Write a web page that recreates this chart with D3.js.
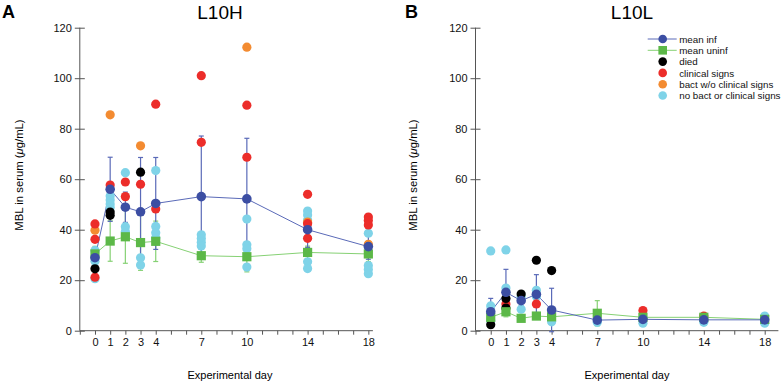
<!DOCTYPE html>
<html>
<head>
<meta charset="utf-8">
<script src="https://cdn.jsdelivr.net/npm/d3@7"></script>
<style>
  body { margin: 0; background: #fff; }
  svg { font-family: "Liberation Sans", Arial, sans-serif; }
</style>
</head>
<body>
<svg width="784" height="383"></svg>
<script>
// ---- data: [day, MBL µg/mL] ----
let days = [0, 1, 2, 3, 4, 7, 10, 14, 18];
let yTicks = [0, 20, 40, 60, 80, 100, 120];

// panel A (L10H)
let aMeanInf   = [28.9, 56, 48.9, 47.1, 50.4, 53.1, 52.2, 40, 33.3];
let aSdInf     = [3, 12.7, 6, 21.5, 18.2, 24, 24, 7, 5];
let aMeanUninf = [30.4, 35.5, 37.2, 34.9, 35.4, 29.7, 29.3, 31, 30.4];
let aSdUninf   = [3, 8, 10.5, 11, 8, 2.6, 6, 2.5, 3];
let aNoBact = [[0,31.8],[0,27.5],[0,20.6],[1,53.3],[1,51.8],[1,50.2],[1,48.8],[2,62.6],[2,41.2],[2,39.3],
               [3,28.9],[3,26],[4,63.4],[4,41.3],[4,38.8],[4,36.8],[7,38],[7,36.5],[7,35],[7,33.5],
               [10,44.2],[10,34],[10,32.5],[10,25.2],[14,47.4],[14,45.8],[14,43.8],[14,27.3],[14,24.6],
               [18,38.6],[18,25.8],[18,24.2],[18,22.6]];
let aBact = [[0,39.8],[1,85.5],[3,73.2],[10,112.3],[14,43],[18,34.2]];
let aClinical = [[0,42.3],[0,36.2],[0,21.2],[1,57.7],[2,58.9],[2,53.1],[3,58],[4,89.7],[4,48.2],
                 [7,101],[7,74.6],[10,89.3],[10,68.7],[14,54],[14,42.4],[14,36.6],[18,45],[18,43.6],[18,41.9]];
let aDied = [[0,24.5],[1,47],[1,45.7],[3,62.8]];

// panel B (L10L)
let bMeanInf   = [7.5, 15.2, 11.9, 14.4, 8.2, 4.2, 4.5, 4.3, 4.3];
let bSdInf     = [5.3, 9.1, 2, 7.8, 8.6, 1, 1, 1, 1];
let bMeanUninf = [5.3, 7.5, 4.9, 5.8, 5.5, 6.9, 5.3, 5.3, 4.5];
let bSdUninf   = [2, 2, 1, 1, 1, 5, 1, 1, 1];
let bNoBact = [[0,31.6],[0,9.8],[0,4],[1,32],[1,16.9],[2,13.5],[2,8.5],[3,16],[3,13.5],[4,3.5],
               [7,3.3],[10,3],[10,5],[14,3.3],[18,5.8],[18,3]];
let bBact = [];
let bClinical = [[1,10.6],[3,10.6],[10,8],[14,5.8]];
let bDied = [[0,2.4],[1,12.8],[1,9],[2,14.5],[3,27.9],[4,23.8]];

let cInf = '#3c4ea3', cInfLine = '#5a6ab8';
let cUninf = '#5cb848', cUninfLine = '#86d174';
let cDied = '#000000', cClin = '#ec2d2a', cBact = '#f38b31', cNo = '#7fd3e8';

let svg = d3.select('svg');
let yScale = d3.scaleLinear().domain([0, 120]).range([330.7, 27.7]);

function drawPanel(opt) {
    let x = d3.scaleLinear().domain([-1, opt.xMax]).range(opt.xRange);
    let g = svg.append('g');

    // axes
    let yAx = g.append('g')
        .attr('transform', 'translate(' + opt.xRange[0] + ',0)')
        .call(d3.axisLeft(yScale).tickValues(yTicks).tickSize(5).tickPadding(3));
    let xAx = g.append('g')
        .attr('transform', 'translate(0,' + yScale(0) + ')')
        .call(d3.axisBottom(x).tickValues(d3.range(-1, 19)).tickSize(4).tickPadding(4)
            .tickFormat(d => days.includes(d) ? d : ''));
    [yAx, xAx].forEach(a => {
        a.select('.domain').attr('stroke', '#555');
        a.selectAll('.tick line').attr('stroke', '#555');
        a.selectAll('text').attr('font-size', 11).attr('fill', '#111')
            .attr('font-family', '"Liberation Sans", Arial, sans-serif');
    });
    yAx.selectAll('.tick line').attr('x2', 5).attr('x1', -5);
    yAx.select('.domain').attr('d', 'M0,' + yScale(120) + 'V' + yScale(0));
    xAx.select('.domain').attr('d', 'M' + opt.xRange[0] + ',0H' + opt.xRange[1]);

    // error bars
    let errBars = function(means, sds, color) {
        let eb = g.append('g').attr('stroke', color).attr('stroke-width', 1.2);
        days.forEach((d, i) => {
            let x0 = x(d), lo = yScale(means[i] - sds[i]), hi = yScale(means[i] + sds[i]);
            eb.append('line').attr('x1', x0).attr('x2', x0).attr('y1', lo).attr('y2', hi);
            eb.append('line').attr('x1', x0 - 2.5).attr('x2', x0 + 2.5).attr('y1', lo).attr('y2', lo);
            eb.append('line').attr('x1', x0 - 2.5).attr('x2', x0 + 2.5).attr('y1', hi).attr('y2', hi);
        });
    };
    errBars(opt.meanUninf, opt.sdUninf, cUninfLine);
    errBars(opt.meanInf, opt.sdInf, cInfLine);

    let line = d3.line().x((v, i) => x(days[i])).y(v => yScale(v));
    g.append('path').attr('d', line(opt.meanUninf)).attr('fill', 'none')
        .attr('stroke', cUninfLine).attr('stroke-width', 1);
    g.append('path').attr('d', line(opt.meanInf)).attr('fill', 'none')
        .attr('stroke', cInfLine).attr('stroke-width', 1);

    // individual animals
    let dots = function(pts, color) {
        g.append('g').selectAll('circle').data(pts).enter().append('circle')
            .attr('cx', d => x(d[0])).attr('cy', d => yScale(d[1]))
            .attr('r', 4.6).attr('fill', color);
    };
    dots(opt.noBact, cNo);
    dots(opt.bact, cBact);
    dots(opt.clinical, cClin);
    dots(opt.died, cDied);

    // means on top
    g.append('g').selectAll('rect').data(opt.meanUninf).enter().append('rect')
        .attr('x', (v, i) => x(days[i]) - 4.6).attr('y', v => yScale(v) - 4.6)
        .attr('width', 9.2).attr('height', 9.2).attr('fill', cUninf);
    g.append('g').selectAll('circle').data(opt.meanInf).enter().append('circle')
        .attr('cx', (v, i) => x(days[i])).attr('cy', v => yScale(v))
        .attr('r', 4.8).attr('fill', cInf);

    // labels
    g.append('text').attr('x', opt.letterX).attr('y', 18).text(opt.letter)
        .attr('font-size', 18).attr('font-weight', 'bold');
    g.append('text').attr('x', opt.titleX).attr('y', 19).text(opt.title)
        .attr('font-size', 19).attr('text-anchor', 'middle');
    g.append('text').attr('x', opt.xLabelX).attr('y', 379).text('Experimental day')
        .attr('font-size', 11).attr('text-anchor', 'middle');
    let yl = g.append('text').attr('transform', 'translate(' + opt.yLabelX + ',175) rotate(-90)')
        .attr('font-size', 11.3).attr('text-anchor', 'middle');
    yl.append('tspan').text('MBL in serum (');
    yl.append('tspan').text('μ').attr('font-style', 'italic');
    yl.append('tspan').text('g/mL)');
    return g;
}

drawPanel({
    xRange: [79.8, 372.9], xMax: 18.3,
    meanInf: aMeanInf, sdInf: aSdInf, meanUninf: aMeanUninf, sdUninf: aSdUninf,
    noBact: aNoBact, bact: aBact, clinical: aClinical, died: aDied,
    letter: 'A', letterX: 2, title: 'L10H', titleX: 220, xLabelX: 230, yLabelX: 23
});
drawPanel({
    xRange: [475.5, 778.4], xMax: 18.9,
    meanInf: bMeanInf, sdInf: bSdInf, meanUninf: bMeanUninf, sdUninf: bSdUninf,
    noBact: bNoBact, bact: bBact, clinical: bClinical, died: bDied,
    letter: 'B', letterX: 405, title: 'L10L', titleX: 632, xLabelX: 627, yLabelX: 417
});

// legend
let legendItems = [
    {label: 'mean inf', color: cInf, line: cInfLine, shape: 'circle'},
    {label: 'mean uninf', color: cUninf, line: cUninfLine, shape: 'square'},
    {label: 'died', color: cDied},
    {label: 'clinical signs', color: cClin},
    {label: 'bact w/o clinical signs', color: cBact},
    {label: 'no bact or clinical signs', color: cNo}
];
let lg = svg.append('g').attr('transform', 'translate(662.7,39)');
legendItems.forEach((it, i) => {
    let row = lg.append('g').attr('transform', 'translate(0,' + (i * 11.3) + ')');
    if (it.line) {
        row.append('line').attr('x1', -15).attr('x2', 14).attr('stroke', it.line).attr('stroke-width', 1);
    }
    if (it.shape === 'square') {
        row.append('rect').attr('x', -4.3).attr('y', -4.3).attr('width', 8.6).attr('height', 8.6).attr('fill', it.color);
    } else {
        row.append('circle').attr('r', 4.3).attr('fill', it.color);
    }
    row.append('text').attr('x', 16.5).attr('y', 3.6).text(it.label).attr('font-size', 9.8).attr('fill', '#111');
});
</script>
</body>
</html>
